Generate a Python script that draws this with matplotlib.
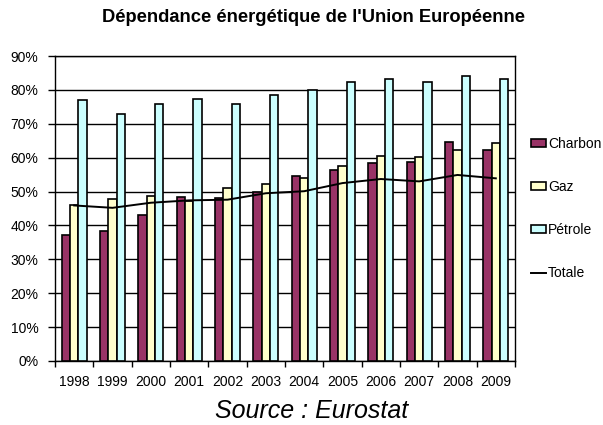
import numpy as np
import matplotlib
matplotlib.use("Agg")
import matplotlib.pyplot as plt
from matplotlib.ticker import FuncFormatter, MultipleLocator, FixedLocator

plt.rcParams['font.family'] = ['Liberation Sans', 'DejaVu Sans']

years = ["1998", "1999", "2000", "2001", "2002", "2003",
         "2004", "2005", "2006", "2007", "2008", "2009"]
charbon = [37.1, 38.5, 43.2, 48.5, 48.1, 49.8, 54.6, 56.4, 58.3, 58.8, 64.7, 62.3]
gaz = [45.9, 47.8, 48.8, 47.3, 51.1, 52.3, 53.9, 57.6, 60.6, 60.3, 62.3, 64.2]
petrole = [77.0, 73.0, 75.8, 77.3, 75.8, 78.4, 80.0, 82.2, 83.3, 82.4, 84.1, 83.3]
totale = [45.9, 45.2, 46.7, 47.4, 47.6, 49.5, 50.1, 52.5, 53.7, 53.0, 54.9, 53.9]

fig = plt.figure(figsize=(6.03, 4.25), dpi=100)
ax = fig.add_axes([55 / 603, 1 - 361 / 425, (515 - 55) / 603, (361 - 56) / 425])

x = np.arange(len(years))
w = 0.218
edge = dict(edgecolor="black", linewidth=1.2, zorder=3)
b1 = ax.bar(x - w, charbon, w, color="#993366", label="Charbon", **edge)
b2 = ax.bar(x, gaz, w, color="#FFFFCC", label="Gaz", **edge)
b3 = ax.bar(x + w, petrole, w, color="#CCFFFF", label="Pétrole", **edge)
ln, = ax.plot(x, totale, color="black", linewidth=1.4, label="Totale", zorder=4)

ax.set_xlim(-0.5, len(years) - 0.5)
ax.set_ylim(0, 90)
ax.yaxis.set_major_locator(MultipleLocator(10))
ax.yaxis.set_major_formatter(FuncFormatter(lambda v, p: f"{v:.0f}%"))
ax.grid(axis="y", color="black", linewidth=1.0, zorder=0)
ax.set_axisbelow(True)

# category labels centred, ticks on category boundaries
ax.set_xticks(x)
ax.set_xticklabels(years)
ax.tick_params(axis="x", length=0, pad=10, labelsize=10)
ax.xaxis.set_minor_locator(FixedLocator(np.arange(-0.5, len(years), 1.0)))
ax.tick_params(axis="x", which="minor", length=4, width=1, direction="out")
ax.tick_params(axis="y", length=5, width=1, direction="out", pad=7, labelsize=10)

for s in ax.spines.values():
    s.set_color("black")
    s.set_linewidth(1.0)

ax.legend(handles=[b1, b2, b3, ln], labels=["Charbon", "Gaz", "Pétrole", "Totale"],
          loc="center left", bbox_to_anchor=(525 / 603, 1 - 208.5 / 425),
          bbox_transform=fig.transFigure, frameon=False, fontsize=10,
          handlelength=1.1, handleheight=0.55, handletextpad=0.15,
          labelspacing=2.1, borderaxespad=0)

fig.text(313 / 603, 1 - 17 / 425, "Dépendance énergétique de l'Union Européenne",
         ha="center", va="center", fontsize=13.2, fontweight="bold")
fig.text(312 / 603, 1 - 411 / 425, "Source : Eurostat",
         ha="center", va="center", fontsize=18, style="italic")

fig.savefig("out.png", dpi=100)
